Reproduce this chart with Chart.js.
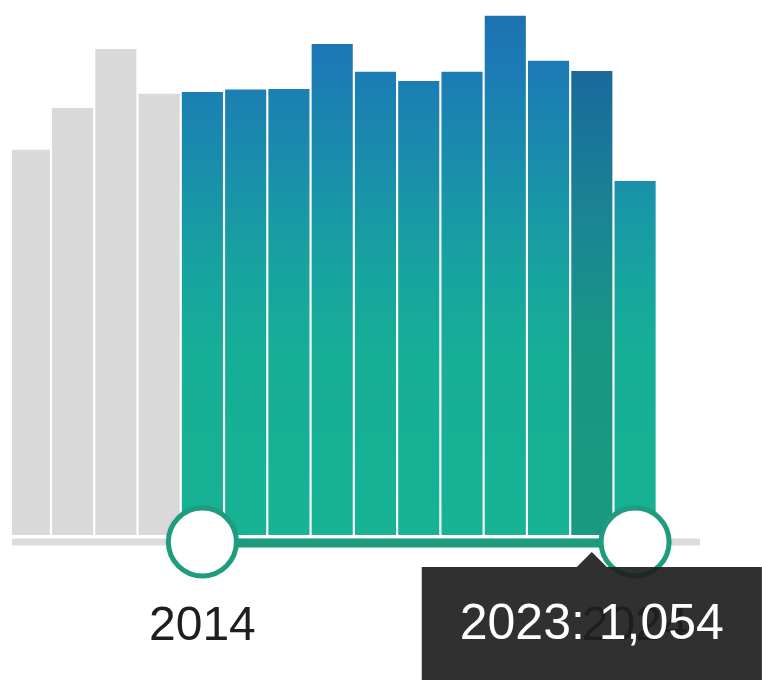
<!DOCTYPE html>
<html>
<head>
<meta charset="utf-8">
<script src="https://cdn.jsdelivr.net/npm/chart.js@4"></script>
<style>
  html, body { margin: 0; padding: 0; background: #fff; overflow: hidden; }
  #wrap { width: 762px; height: 700px; }
</style>
</head>
<body>
<div id="wrap"><canvas id="chart" width="762" height="700"></canvas></div>
<script>
// yearly counts
const years = [2010, 2011, 2012, 2013, 2014, 2015, 2016, 2017, 2018, 2019, 2020, 2021, 2022, 2023, 2024];
const counts = [875, 970, 1104, 1002, 1006, 1012, 1013, 1115, 1052, 1031, 1052, 1179, 1077, 1054, 804];
const rangeStart = 2014;
const rangeEnd = 2024;
const hoverYear = 2023;

const fontFamily = '"Liberation Sans", Arial, sans-serif';
const greyBar = '#d9d9d9';
const lightStops = [[0, '#1d6fae'], [0.12, '#1c7ab5'], [0.35, '#1992aa'], [0.5, '#17a3a0'], [0.65, '#16ae97'], [1, '#17b394']];
const darkStops = [[0, '#1a6094'], [0.15, '#1a6b9b'], [0.4, '#1a8494'], [0.6, '#189585'], [1, '#1a9a80']];

function barColour(context) {
  const i = context.dataIndex;
  if (years[i] < rangeStart) return greyBar;
  const chart = context.chart;
  if (!chart.chartArea) return '#1a9aa5';
  const g = chart.ctx.createLinearGradient(0, chart.chartArea.top, 0, chart.chartArea.bottom);
  const stops = years[i] === hoverYear ? darkStops : lightStops;
  stops.forEach(s => g.addColorStop(s[0], s[1]));
  return g;
}

// tooltip sits under the slider, caret pointing at the bar's centre
Chart.Tooltip.positioners.slider = function(items) {
  if (!items.length) return false;
  return { x: items[0].element.x, y: this.chart.scales.y.getPixelForValue(0) + 15 };
};

const sliderPlugin = {
  id: 'slider',
  afterDatasetsDraw(chart) {
    const { ctx, chartArea, scales } = chart;
    const base = scales.y.getPixelForValue(0);
    const trackY = base + 7;
    const x1 = scales.x.getPixelForValue(rangeStart);
    const x2 = scales.x.getPixelForValue(rangeEnd);
    ctx.save();
    ctx.lineCap = 'butt';
    ctx.strokeStyle = '#dcdcdc';
    ctx.lineWidth = 7;
    ctx.beginPath();
    ctx.moveTo(chartArea.left, trackY);
    ctx.lineTo(chartArea.right, trackY);
    ctx.stroke();

    ctx.strokeStyle = '#1c9b7d';
    ctx.lineWidth = 9;
    ctx.beginPath();
    ctx.moveTo(x1, trackY + 1);
    ctx.lineTo(x2, trackY + 1);
    ctx.stroke();

    for (const hx of [x1, x2]) {
      ctx.save();
      ctx.shadowColor = 'rgba(0,0,0,0.15)';
      ctx.shadowBlur = 6;
      ctx.beginPath();
      ctx.arc(hx, trackY, 34, 0, Math.PI * 2);
      ctx.fillStyle = '#fff';
      ctx.fill();
      ctx.restore();
      ctx.beginPath();
      ctx.arc(hx, trackY, 34, 0, Math.PI * 2);
      ctx.strokeStyle = '#1f9c7d';
      ctx.lineWidth = 5;
      ctx.stroke();
    }

    ctx.fillStyle = '#1e1e1e';
    ctx.font = '48px ' + fontFamily;
    ctx.textAlign = 'center';
    ctx.textBaseline = 'alphabetic';
    ctx.fillText(String(rangeStart), x1, base + 105);
    ctx.fillText(String(rangeEnd), x2, base + 105);
    ctx.restore();
  }
};

const chart = new Chart(document.getElementById('chart'), {
  type: 'bar',
  data: {
    datasets: [{
      data: years.map((yr, i) => ({ x: yr, y: counts[i] })),
      backgroundColor: barColour,
      hoverBackgroundColor: barColour,
      borderWidth: 0,
      barPercentage: 0.95,
      categoryPercentage: 1,
      clip: 0
    }]
  },
  options: {
    responsive: false,
    animation: false,
    events: [],
    layout: { padding: { left: 12, right: 62, top: 0, bottom: 165 } },
    scales: {
      x: { type: 'linear', min: 2009.6, max: 2025.5, offset: false, display: false },
      y: { min: 0, max: 1215, display: false }
    },
    plugins: {
      legend: { display: false },
      tooltip: {
        position: 'slider',
        xAlign: 'center',
        yAlign: 'top',
        backgroundColor: 'rgba(30,30,30,0.92)',
        bodyColor: '#fff',
        bodyFont: { family: fontFamily, size: 50 },
        padding: { top: 28, bottom: 28, left: 38, right: 38 },
        caretSize: 15,
        caretPadding: 2,
        cornerRadius: 0,
        displayColors: false,
        callbacks: {
          title: () => [],
          label: ctx => ctx.raw.x + ': ' + ctx.raw.y.toLocaleString('en-US')
        }
      }
    }
  },
  plugins: [sliderPlugin]
});

const active = [{ datasetIndex: 0, index: years.indexOf(hoverYear) }];
chart.setActiveElements(active);
chart.tooltip.setActiveElements(active, { x: 0, y: 0 });
chart.update();
</script>
</body>
</html>
